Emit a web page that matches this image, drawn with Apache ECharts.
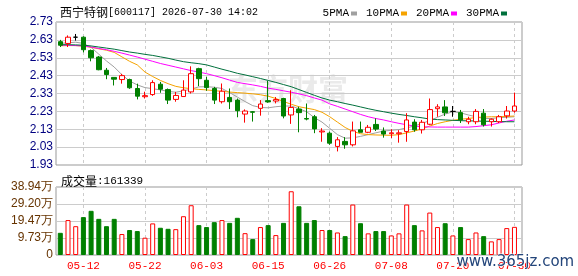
<!DOCTYPE html>
<html>
<head>
<meta charset="utf-8">
<script src="https://cdn.jsdelivr.net/npm/echarts@6/dist/echarts.min.js"></script>
<style>
  html, body { margin: 0; padding: 0; background: #fff; }
  #chart { width: 578px; height: 276px; }
</style>
</head>
<body>
<div id="chart"></div>
<script>
// trading days shown (60 bars)
const dates = [
  '2026-05-07', '2026-05-08', '2026-05-11', '2026-05-12', '2026-05-13', '2026-05-14', '2026-05-15',
  '2026-05-18', '2026-05-19', '2026-05-20', '2026-05-21', '2026-05-22', '2026-05-25', '2026-05-26',
  '2026-05-27', '2026-05-28', '2026-05-29', '2026-06-01', '2026-06-02', '2026-06-03', '2026-06-04',
  '2026-06-05', '2026-06-08', '2026-06-09', '2026-06-10', '2026-06-11', '2026-06-12', '2026-06-15',
  '2026-06-16', '2026-06-17', '2026-06-18', '2026-06-22', '2026-06-23', '2026-06-24', '2026-06-25',
  '2026-06-26', '2026-06-29', '2026-06-30', '2026-07-01', '2026-07-02', '2026-07-03', '2026-07-06',
  '2026-07-07', '2026-07-08', '2026-07-09', '2026-07-10', '2026-07-13', '2026-07-14', '2026-07-15',
  '2026-07-16', '2026-07-17', '2026-07-20', '2026-07-21', '2026-07-22', '2026-07-23', '2026-07-24',
  '2026-07-27', '2026-07-28', '2026-07-29', '2026-07-30',
];
const opens = [
  2.62, 2.61, 2.645, 2.645, 2.57, 2.534, 2.46, 2.42, 2.408, 2.408,
  2.358, 2.312, 2.324, 2.382, 2.352, 2.297, 2.313, 2.339, 2.469, 2.404,
  2.358, 2.284, 2.308, 2.293, 2.215, 2.228, 2.247, 2.29, 2.288, 2.302,
  2.21, 2.243, 2.19, 2.2, 2.115, 2.108, 2.034, 2.062, 2.043, 2.127,
  2.113, 2.157, 2.12, 2.105, 2.105, 2.117, 2.17, 2.127, 2.158, 2.245,
  2.255, 2.23, 2.223, 2.172, 2.172, 2.22, 2.172, 2.172, 2.205, 2.232,
];
const closes = [
  2.60, 2.645, 2.645, 2.575, 2.53, 2.463, 2.436, 2.41, 2.43, 2.362,
  2.315, 2.318, 2.391, 2.354, 2.293, 2.319, 2.349, 2.441, 2.413, 2.363,
  2.293, 2.343, 2.284, 2.234, 2.232, 2.225, 2.271, 2.283, 2.296, 2.204,
  2.252, 2.223, 2.187, 2.132, 2.12, 2.052, 2.071, 2.043, 2.121, 2.113,
  2.141, 2.131, 2.103, 2.11, 2.11, 2.182, 2.127, 2.169, 2.24, 2.255,
  2.222, 2.23, 2.182, 2.186, 2.23, 2.155, 2.186, 2.2, 2.232, 2.26,
];
const lows = [
  2.59, 2.59, 2.626, 2.56, 2.51, 2.46, 2.41, 2.375, 2.385, 2.356,
  2.297, 2.302, 2.317, 2.334, 2.271, 2.284, 2.313, 2.33, 2.371, 2.345,
  2.271, 2.274, 2.243, 2.197, 2.167, 2.173, 2.206, 2.278, 2.275, 2.191,
  2.16, 2.113, 2.18, 2.108, 2.06, 2.043, 2.006, 2.021, 2.034, 2.113,
  2.108, 2.12, 2.083, 2.081, 2.055, 2.06, 2.116, 2.106, 2.153, 2.2,
  2.204, 2.2, 2.165, 2.158, 2.158, 2.145, 2.145, 2.165, 2.19, 2.223,
];
const highs = [
  2.63, 2.655, 2.663, 2.65, 2.576, 2.54, 2.473, 2.42, 2.44, 2.413,
  2.385, 2.34, 2.404, 2.395, 2.358, 2.339, 2.404, 2.482, 2.474, 2.423,
  2.367, 2.386, 2.358, 2.302, 2.241, 2.232, 2.293, 2.40, 2.31, 2.306,
  2.348, 2.256, 2.274, 2.21, 2.136, 2.117, 2.086, 2.086, 2.173, 2.173,
  2.154, 2.191, 2.14, 2.13, 2.125, 2.22, 2.186, 2.182, 2.302, 2.27,
  2.293, 2.26, 2.238, 2.2, 2.243, 2.243, 2.191, 2.21, 2.26, 2.335,
];
// volume, in 万
const volumes = [
  12.7, 20.0, 16.5, 21.7, 25.3, 20.7, 16.5, 20.7, 12.0, 14.3,
  13.7, 9.9, 18.1, 15.6, 15.0, 14.8, 22.2, 28.5, 17.1, 16.0,
  18.8, 20.0, 18.4, 21.3, 12.5, 9.1, 16.0, 17.1, 11.4, 18.4,
  36.5, 27.9, 18.4, 20.0, 14.3, 14.3, 12.9, 10.8, 28.9, 18.2,
  12.4, 13.7, 13.7, 11.2, 12.4, 28.9, 17.1, 14.1, 24.3, 16.0,
  18.2, 11.2, 16.0, 9.1, 12.9, 10.8, 7.8, 9.1, 15.4, 16.13,
];
const ma5 = [
  2.61, 2.614, 2.617, 2.61, 2.588, 2.55, 2.512, 2.478, 2.435, 2.4,
  2.378, 2.363, 2.357, 2.35, 2.342, 2.337, 2.345, 2.355, 2.367, 2.368,
  2.365, 2.358, 2.335, 2.31, 2.285, 2.262, 2.252, 2.25, 2.256, 2.26,
  2.26, 2.245, 2.228, 2.195, 2.17, 2.135, 2.1, 2.08, 2.082, 2.09,
  2.1, 2.11, 2.12, 2.124, 2.128, 2.138, 2.148, 2.163, 2.178, 2.197,
  2.215, 2.228, 2.222, 2.21, 2.2, 2.19, 2.19, 2.195, 2.197, 2.2,
];
const ma10 = [
  2.597, 2.598, 2.598, 2.595, 2.588, 2.58, 2.572, 2.56, 2.535, 2.51,
  2.49, 2.45, 2.425, 2.403, 2.385, 2.37, 2.362, 2.357, 2.353, 2.35,
  2.346, 2.342, 2.338, 2.335, 2.332, 2.328, 2.323, 2.315, 2.302, 2.285,
  2.27, 2.256, 2.248, 2.24, 2.225, 2.2, 2.17, 2.14, 2.118, 2.105,
  2.1, 2.098, 2.097, 2.096, 2.1, 2.11, 2.12, 2.132, 2.148, 2.162,
  2.172, 2.18, 2.186, 2.19, 2.196, 2.198, 2.2, 2.2, 2.202, 2.204,
];
const ma20 = [
  2.6, 2.6, 2.598, 2.596, 2.59, 2.582, 2.575, 2.566, 2.556, 2.545,
  2.534, 2.522, 2.51, 2.498, 2.488, 2.478, 2.468, 2.458, 2.45, 2.441,
  2.43, 2.418, 2.405, 2.392, 2.385, 2.378, 2.37, 2.36, 2.353, 2.345,
  2.337, 2.328, 2.318, 2.305, 2.293, 2.272, 2.258, 2.243, 2.228, 2.213,
  2.2, 2.19, 2.182, 2.172, 2.163, 2.155, 2.148, 2.144, 2.143, 2.142,
  2.142, 2.142, 2.142, 2.142, 2.145, 2.15, 2.155, 2.165, 2.175, 2.182,
];
const ma30 = [
  2.603, 2.603, 2.602, 2.6, 2.596, 2.59, 2.584, 2.578, 2.57, 2.562,
  2.556, 2.549, 2.543, 2.535, 2.527, 2.517, 2.508, 2.502, 2.497, 2.49,
  2.478, 2.466, 2.455, 2.443, 2.434, 2.424, 2.414, 2.403, 2.392, 2.38,
  2.368, 2.352, 2.336, 2.32, 2.305, 2.293, 2.284, 2.274, 2.265, 2.255,
  2.245, 2.236, 2.228, 2.22, 2.213, 2.207, 2.2, 2.194, 2.187, 2.184,
  2.182, 2.18, 2.178, 2.177, 2.176, 2.175, 2.174, 2.173, 2.172, 2.172,
];
const maNames = ['5PMA', '10PMA', '20PMA', '30PMA'];
const labelIdx = [3, 11, 19, 27, 35, 43, 51, 59]; // bars carrying a date label
const volTicks = ['0', '9.73万', '19.47万', '29.20万', '38.94万'];

const red = '#ff0000';
const green = '#008000';
const gridLine = '#cccccc';
const frame = '#999999';
const maColors = ['#a0a0a0', '#f5a300', '#ff00ff', '#00703c'];

const chart = echarts.init(document.getElementById('chart'));

const candleData = dates.map((d, i) => [i, opens[i], closes[i], lows[i], highs[i]]);
const volData = dates.map((d, i) => {
  const up = closes[i] >= opens[i];
  return {
    value: [i, volumes[i]],
    itemStyle: up
      ? { color: '#fff', borderColor: red, borderWidth: 1 }
      : { color: green, borderColor: green, borderWidth: 1 },
  };
});

function xAxisFor(gridIndex, showLabel) {
  return {
    type: 'value',
    gridIndex,
    min: -0.56,
    max: 59.98,
    axisLine: { show: false },
    axisTick: { show: false, customValues: labelIdx },
    splitLine: { show: true, lineStyle: { color: gridLine, type: [3, 3] } },
    axisLabel: {
      show: showLabel,
      customValues: labelIdx,
      color: red,
      fontSize: 11,
      fontFamily: 'Liberation Mono',
      margin: 6,
      formatter: (v) => dates[Math.round(v)].slice(5),
    },
  };
}

const maSeries = [ma5, ma10, ma20, ma30].map((arr, k) => ({
  name: maNames[k],
  type: 'line',
  xAxisIndex: 0,
  yAxisIndex: 0,
  symbol: 'none',
  data: arr.map((v, i) => [i, v]),
  itemStyle: { color: maColors[k] },
  lineStyle: { color: maColors[k], width: 1 },
  z: 3,
}));

const option = {
  animation: false,
  backgroundColor: '#fff',
  title: [{
    left: 55,
    top: 1,
    text: '{a|西宁特钢}{b|[600117] 2026-07-30 14:02}',
    textStyle: {
      fontWeight: 'normal',
      rich: {
        a: { fontFamily: 'Noto Sans CJK SC', fontSize: 12, fontWeight: 'normal', color: '#000' },
        b: { fontFamily: 'Liberation Mono', fontSize: 10, fontWeight: 'normal', color: '#000' },
      },
    },
  }, {
    left: 56,
    top: 170,
    text: '{a|成交量}{b|:161339}',
    textStyle: {
      fontWeight: 'normal',
      rich: {
        a: { fontFamily: 'Noto Sans CJK SC', fontSize: 12, fontWeight: 'normal', color: '#000' },
        b: { fontFamily: 'Liberation Mono', fontSize: 11, fontWeight: 'normal', color: '#000' },
      },
    },
  }],
  legend: {
    data: maNames,
    right: 66,
    top: 3,
    align: 'right',
    icon: 'rect',
    itemWidth: 6,
    itemHeight: 4,
    itemGap: 9,
    textStyle: { fontFamily: 'Liberation Mono', fontSize: 11, color: '#000', padding: [0, -3, 0, 0] },
  },
  graphic: [{
    type: 'text',
    left: 228,
    top: 74,
    z: -1,
    silent: true,
    style: {
      text: '东方财富',
      fontFamily: 'Noto Sans CJK SC',
      fontSize: 30,
      fontWeight: 'bold',
      fill: '#eaeaea',
      letterSpacing: 10,
    },
  }, {
    type: 'text',
    left: 456,
    top: 254,
    z: 100,
    silent: true,
    style: {
      text: 'www.365jz.com',
      fontFamily: 'DejaVu Sans',
      fontSize: 15,
      fill: '#23457a',
      stroke: '#fff',
      lineWidth: 1,
    },
  }],
  grid: [
    { left: 56, right: 56, top: 22, height: 143, show: true, borderColor: frame, borderWidth: 1, backgroundColor: 'transparent' },
    { left: 56, right: 56, top: 187, height: 68, show: true, borderColor: frame, borderWidth: 1, backgroundColor: 'transparent' },
  ],
  xAxis: [xAxisFor(0, false), xAxisFor(1, true)],
  yAxis: [{
    type: 'value',
    gridIndex: 0,
    min: 1.93,
    max: 2.73,
    interval: 0.1,
    axisLine: { show: false },
    axisTick: { show: false },
    splitLine: { lineStyle: { color: gridLine } },
    axisLabel: {
      color: '#000080',
      fontFamily: 'Liberation Sans',
      fontSize: 12,
      margin: 3,
      formatter: (v) => v.toFixed(2),
    },
  }, {
    type: 'value',
    gridIndex: 1,
    min: 0,
    max: 38.94,
    interval: 9.735,
    axisLine: { show: false },
    axisTick: { show: false },
    splitLine: { lineStyle: { color: gridLine } },
    axisLabel: {
      color: '#663300',
      fontFamily: 'Liberation Sans',
      fontSize: 12,
      margin: 3,
      formatter: (v) => volTicks[Math.round(v / 9.735)],
    },
  }],
  series: [{
    name: 'K',
    type: 'candlestick',
    xAxisIndex: 0,
    yAxisIndex: 0,
    barWidth: 5,
    dimensions: ['idx', 'open', 'close', 'lowest', 'highest'],
    encode: { x: 0, y: [1, 2, 3, 4] },
    data: candleData,
    itemStyle: {
      color: '#fff',
      color0: green,
      borderColor: red,
      borderColor0: green,
      borderColorDoji: '#000',
      borderWidth: 1,
    },
    z: 4,
  }, ...maSeries, {
    name: 'VOL',
    type: 'bar',
    xAxisIndex: 1,
    yAxisIndex: 1,
    barWidth: 5,
    data: volData,
  }],
};

chart.setOption(option);
</script>
</body>
</html>
